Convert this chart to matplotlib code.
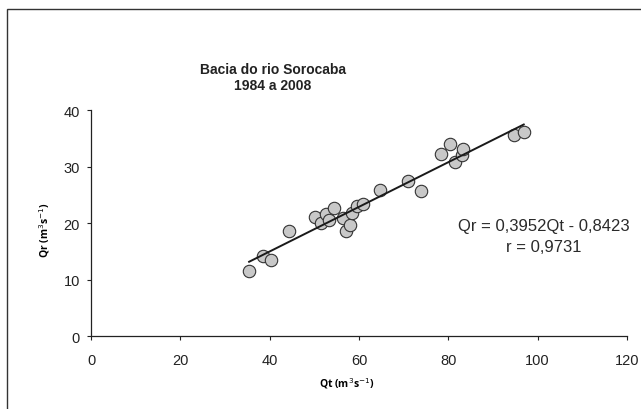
import numpy as np
import matplotlib
matplotlib.use("Agg")
import matplotlib.pyplot as plt
from matplotlib.patches import Rectangle

plt.rcParams['font.family'] = ['Liberation Sans', 'DejaVu Sans']

# Qt (m3/s) and Qr (m3/s), 1984 a 2008
qt = [35.4, 38.6, 40.3, 44.4, 50.2, 51.5, 52.6, 53.4, 54.3, 56.5, 57.0, 58.1,
      58.4, 59.5, 61.0, 64.8, 71.0, 73.9, 78.4, 80.4, 81.5, 83.0, 83.4, 94.7, 96.9]
qr = [11.6, 14.2, 13.5, 18.6, 21.0, 20.1, 21.6, 20.5, 22.7, 20.9, 18.6, 19.7,
      21.7, 23.0, 23.3, 25.8, 27.4, 25.6, 32.2, 34.0, 30.9, 32.0, 33.2, 35.6, 36.1]
slope, intercept = 0.3952, -0.8423
x_ticks = [0, 20, 40, 60, 80, 100, 120]
y_ticks = [0, 10, 20, 30, 40]

fig = plt.figure(figsize=(6.41, 4.10), dpi=100)
ax = fig.add_axes([0.142, 0.178, 0.836, 0.551])

ax.scatter(qt, qr, s=80, facecolor='#c8c8c8', edgecolor='#333333',
           linewidths=0.8, zorder=2)
xl = np.array([min(qt), max(qt)])
ax.plot(xl, slope * xl + intercept, color='#1a1a1a', lw=1.4, zorder=3)

ax.set_xlim(0, 120)
ax.set_ylim(0, 40)
ax.set_xticks(x_ticks)
ax.set_yticks(y_ticks)
ax.spines['top'].set_visible(False)
ax.spines['right'].set_visible(False)
for s in ['left', 'bottom']:
    ax.spines[s].set_linewidth(0.9)
    ax.spines[s].set_color('#222222')
ax.tick_params(axis='x', direction='out', length=3, pad=9, labelsize=10.5,
               colors='#222222')
ax.tick_params(axis='y', direction='out', length=3, pad=5, labelsize=10.5,
               colors='#222222')

ax.set_xlabel(r'Qt (m$^3$s$^{-1}$)', fontsize=7.5, fontweight='bold',
              family='Open Sans', va='center')
ax.set_ylabel(r'Qr (m$^3$s$^{-1}$)', fontsize=7.5, fontweight='bold',
              family='Open Sans', va='center')
ax.xaxis.set_label_coords(0.478, -0.204)
ax.yaxis.set_label_coords(-0.086, 0.473)

ax.text(101.4, 19.5, 'Qr = 0,3952Qt - 0,8423', ha='center', va='center',
        fontsize=12, color='#2a2a2a')
ax.text(101.4, 15.8, 'r = 0,9731', ha='center', va='center',
        fontsize=12, color='#2a2a2a')

fig.text(273 / 641, 1 - 70 / 410, 'Bacia do rio Sorocaba', ha='center',
         va='center', fontsize=10, fontweight='bold', color='#222222')
fig.text(273 / 641, 1 - 86 / 410, '1984 a 2008', ha='center',
         va='center', fontsize=10, fontweight='bold', color='#222222')

# outer frame (cut off at right and bottom edges)
fig.add_artist(Rectangle((7 / 641, -0.1), 1.2, 1 - 10 / 410 + 0.1,
                         transform=fig.transFigure, fill=False,
                         edgecolor='#333333', lw=1.0))

fig.savefig('out.png', dpi=100)
